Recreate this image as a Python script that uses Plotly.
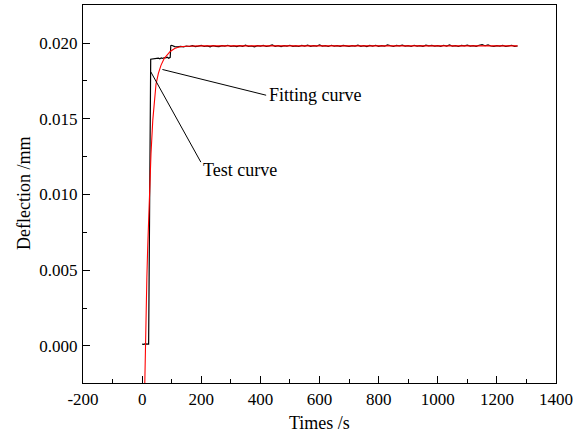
import plotly.graph_objects as go

# ---- Test curve (black) ----
test_t = [0, 5, 10, 15, 20, 22, 29, 35, 40, 45, 50, 55, 60, 65, 70, 75, 80, 85, 90, 95, 97,
          100, 110, 120, 130, 140, 150, 160, 170, 180, 190,
          200, 210, 220, 230, 240, 250, 260, 270, 280, 290,
          300, 310, 320, 330, 340, 350, 360, 370, 380, 390,
          400, 410, 420, 430, 440, 450, 460, 470, 480, 490,
          500, 510, 520, 530, 540, 550, 560, 570, 580, 590,
          600, 610, 620, 630, 640, 650, 660, 670, 680, 690,
          700, 710, 720, 730, 740, 750, 760, 770, 780, 790,
          800, 810, 820, 830, 840, 850, 860, 870, 880, 890,
          900, 910, 920, 930, 940, 950, 960, 970, 980, 990,
          1000, 1010, 1020, 1030, 1040, 1050, 1060, 1070, 1080, 1090,
          1100, 1110, 1120, 1130, 1140, 1150, 1160, 1170, 1180, 1190,
          1200, 1210, 1220, 1230, 1240, 1250, 1260, 1270]
test_y = [0.00012, 0.00010, 0.00013, 0.00011, 0.00012, 0.00012, 0.01894, 0.01896, 0.01893, 0.01898,
          0.01896, 0.01901, 0.01897, 0.01903, 0.01899, 0.01905, 0.01902, 0.01907, 0.01900, 0.01906, 0.01984,
          0.01986, 0.01977, 0.01975, 0.01979, 0.01976, 0.01981, 0.01978, 0.01983, 0.01977, 0.01980,
          0.01985, 0.01978, 0.01982, 0.01976, 0.01984, 0.01979, 0.01977, 0.01983, 0.01980, 0.01986,
          0.01978, 0.01982, 0.01977, 0.01984, 0.01979, 0.01987, 0.01978, 0.01981, 0.01976, 0.01983,
          0.01980, 0.01985, 0.01978, 0.01982, 0.01988, 0.01979, 0.01983, 0.01977, 0.01984, 0.01980,
          0.01986, 0.01979, 0.01982, 0.01978, 0.01985, 0.01981, 0.01987, 0.01979, 0.01983, 0.01980,
          0.01988, 0.01981, 0.01984, 0.01978, 0.01986, 0.01980, 0.01983, 0.01979, 0.01985, 0.01982,
          0.01978, 0.01984, 0.01980, 0.01987, 0.01979, 0.01983, 0.01977, 0.01985, 0.01981, 0.01986,
          0.01979, 0.01984, 0.01980, 0.01988, 0.01981, 0.01978, 0.01985, 0.01982, 0.01987, 0.01980,
          0.01983, 0.01978, 0.01986, 0.01981, 0.01984, 0.01979, 0.01987, 0.01982, 0.01985, 0.01980,
          0.01984, 0.01979, 0.01986, 0.01981, 0.01988, 0.01980, 0.01983, 0.01978, 0.01985, 0.01982,
          0.01987, 0.01980, 0.01984, 0.01979, 0.01986, 0.01990, 0.01983, 0.01988, 0.01981, 0.01979,
          0.01984, 0.01980, 0.01985, 0.01978, 0.01982, 0.01986, 0.01979, 0.01981]

# ---- Fitting curve (red) ----
fit_t = [8.5, 10, 13, 16, 19, 22, 26, 30, 36, 42, 47, 55, 64, 75, 85, 95, 110, 127, 150, 200, 1270]
fit_y = [-0.0030, -0.0010, 0.0020, 0.0045, 0.0066, 0.0083, 0.0107, 0.0127, 0.0149, 0.0163,
         0.0173, 0.0180, 0.01855, 0.0190, 0.01925, 0.01945, 0.01965, 0.01976, 0.01980, 0.01982, 0.01982]

x_ticks = [-200, 0, 200, 400, 600, 800, 1000, 1200, 1400]
y_ticks = [0.000, 0.005, 0.010, 0.015, 0.020]

FONT = "Times New Roman, Liberation Serif, serif"

fig = go.Figure()
fig.add_trace(go.Scatter(x=test_t, y=test_y, mode="lines",
                         line=dict(color="black", width=1.2), showlegend=False))
fig.add_trace(go.Scatter(x=fit_t, y=fit_y, mode="lines",
                         line=dict(color="#ff0000", width=1.1), showlegend=False))

# annotation leader lines
fig.add_shape(type="line", xref="x", yref="y", x0=68.7, y0=0.01826, x1=419.5, y1=0.01656,
              line=dict(color="black", width=1))
fig.add_shape(type="line", xref="x", yref="y", x0=29.4, y0=0.0181, x1=198.6, y1=0.01214,
              line=dict(color="black", width=1))
fig.add_annotation(x=421, y=0.01656, xref="x", yref="y", text="Fitting curve", showarrow=False,
                   xanchor="left", yanchor="middle", font=dict(family=FONT, size=18, color="black"))
fig.add_annotation(x=199, y=0.0116, xref="x", yref="y", text="Test curve", showarrow=False,
                   xanchor="left", yanchor="middle", font=dict(family=FONT, size=18, color="black"))

# axis titles
fig.add_annotation(x=-0.1247, y=0.5, xref="paper", yref="paper", text="Deflection /mm",
                   showarrow=False, textangle=-90, xanchor="center", yanchor="middle",
                   font=dict(family=FONT, size=18, color="black"))
fig.add_annotation(x=0.5, y=-0.106, xref="paper", yref="paper", text="Times /s",
                   showarrow=False, xanchor="center", yanchor="middle",
                   font=dict(family=FONT, size=18, color="black"))

axis_common = dict(showline=True, linecolor="black", linewidth=1.3, mirror=True,
                   ticks="inside", ticklen=7, tickwidth=1.2, tickcolor="black",
                   showgrid=False, zeroline=False, automargin=False,
                   tickfont=dict(family=FONT, size=17, color="black"))

fig.update_xaxes(range=[-200, 1400], tickvals=x_ticks, ticktext=[str(v) for v in x_ticks],
                 minor=dict(ticks="inside", ticklen=4, tickwidth=1.2, tickcolor="black", dtick=100, tick0=0),
                 ticklabelstandoff=0, **axis_common)
fig.update_yaxes(range=[-0.00245, 0.02252], tickvals=y_ticks, ticktext=[f"{v:.3f}" for v in y_ticks],
                 minor=dict(ticks="inside", ticklen=4, tickwidth=1.2, tickcolor="black", dtick=0.0025, tick0=0),
                 ticklabelstandoff=1, **axis_common)

fig.update_layout(width=579, height=434, margin=dict(l=83, r=23, t=5, b=51),
                  plot_bgcolor="white", paper_bgcolor="white",
                  font=dict(family=FONT, color="black"))

fig.write_html("out.html", config={"displayModeBar": False})

# remove the browser's default body margin so the figure sits at the page origin
with open("out.html", "r", encoding="utf-8") as f:
    html = f.read()
html = html.replace("<head>", "<head><style>html,body{margin:0;padding:0;overflow:hidden;}</style>", 1)
with open("out.html", "w", encoding="utf-8") as f:
    f.write(html)
